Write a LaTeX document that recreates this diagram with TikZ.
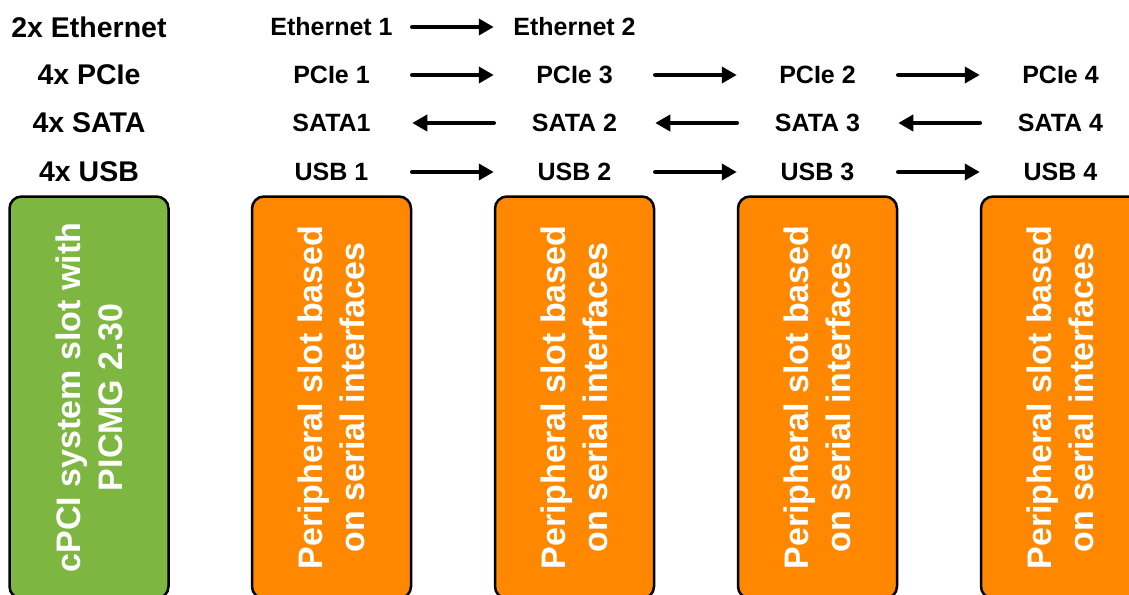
\documentclass[tikz,border=0pt]{standalone}
\usepackage{fontspec}
\setmainfont{Liberation Sans}
\usetikzlibrary{arrows.meta}
\definecolor{slotgreen}{RGB}{125,183,65}
\definecolor{slotorange}{RGB}{255,136,0}
\tikzset{
	slot/.style={draw=black, line width=2.5pt, rounded corners=12pt, rotate=90,
		minimum width=402pt, minimum height=159pt, inner sep=0pt,
		text=white, align=center, font=\bfseries\fontsize{34}{42}\selectfont},
	group/.style={font=\bfseries\fontsize{28.5}{33}\selectfont},
	iface/.style={font=\bfseries\fontsize{25}{30}\selectfont},
	link/.style={line width=4.5pt, line cap=round, -{Triangle[length=15pt,width=16pt]}}
}

\begin{document}
\begin{tikzpicture}[x=1pt, y=-1pt]
	%%%%% START %%%%%
	\useasboundingbox (0, 0) rectangle (1129, 594);
	\clip (0, 0) rectangle (1129, 594);
	
	\node[slot, fill=slotgreen] (sys) at (89, 397.5) {cPCI system slot with\\PICMG 2.30};
	\node[slot, fill=slotorange] (slot1) at (331.5, 397.5) {Peripheral slot based\\on serial interfaces};
	\node[slot, fill=slotorange] (slot2) at (574.5, 397.5) {Peripheral slot based\\on serial interfaces};
	\node[slot, fill=slotorange] (slot3) at (817.5, 397.5) {Peripheral slot based\\on serial interfaces};
	\node[slot, fill=slotorange] (slot4) at (1060.5, 397.5) {Peripheral slot based\\on serial interfaces};
	
	\node[group] (geth) at (89, 27) {2x Ethernet};
	\node[group] (gpcie) at (89, 75) {4x PCIe};
	\node[group] (gsata) at (89, 123) {4x SATA};
	\node[group] (gusb) at (89, 172) {4x USB};
	
	\node[iface] (eth1) at (331.5, 27) {Ethernet 1};
	\node[iface] (eth2) at (574.5, 27) {Ethernet 2};
	
	\node[iface] (pcie1) at (331.5, 75) {PCIe 1};
	\node[iface] (pcie3) at (574.5, 75) {PCIe 3};
	\node[iface] (pcie2) at (817.5, 75) {PCIe 2};
	\node[iface] (pcie4) at (1060.5, 75) {PCIe 4};
	
	\node[iface] (sata1) at (331.5, 123) {SATA1};
	\node[iface] (sata2) at (574.5, 123) {SATA 2};
	\node[iface] (sata3) at (817.5, 123) {SATA 3};
	\node[iface] (sata4) at (1060.5, 123) {SATA 4};
	
	\node[iface] (usb1) at (331.5, 172) {USB 1};
	\node[iface] (usb2) at (574.5, 172) {USB 2};
	\node[iface] (usb3) at (817.5, 172) {USB 3};
	\node[iface] (usb4) at (1060.5, 172) {USB 4};
	
	% arrows run in the gaps between the slots
	\draw[link] (eth1 -| slot1.south) -- (eth2 -| slot2.north);
	
	\draw[link] (pcie1 -| slot1.south) -- (pcie3 -| slot2.north);
	\draw[link] (pcie3 -| slot2.south) -- (pcie2 -| slot3.north);
	\draw[link] (pcie2 -| slot3.south) -- (pcie4 -| slot4.north);
	
	\draw[link] (sata2 -| slot2.north) -- (sata1 -| slot1.south);
	\draw[link] (sata3 -| slot3.north) -- (sata2 -| slot2.south);
	\draw[link] (sata4 -| slot4.north) -- (sata3 -| slot3.south);
	
	\draw[link] (usb1 -| slot1.south) -- (usb2 -| slot2.north);
	\draw[link] (usb2 -| slot2.south) -- (usb3 -| slot3.north);
	\draw[link] (usb3 -| slot3.south) -- (usb4 -| slot4.north);
	%%%%% END %%%%%
\end{tikzpicture}
\end{document}
